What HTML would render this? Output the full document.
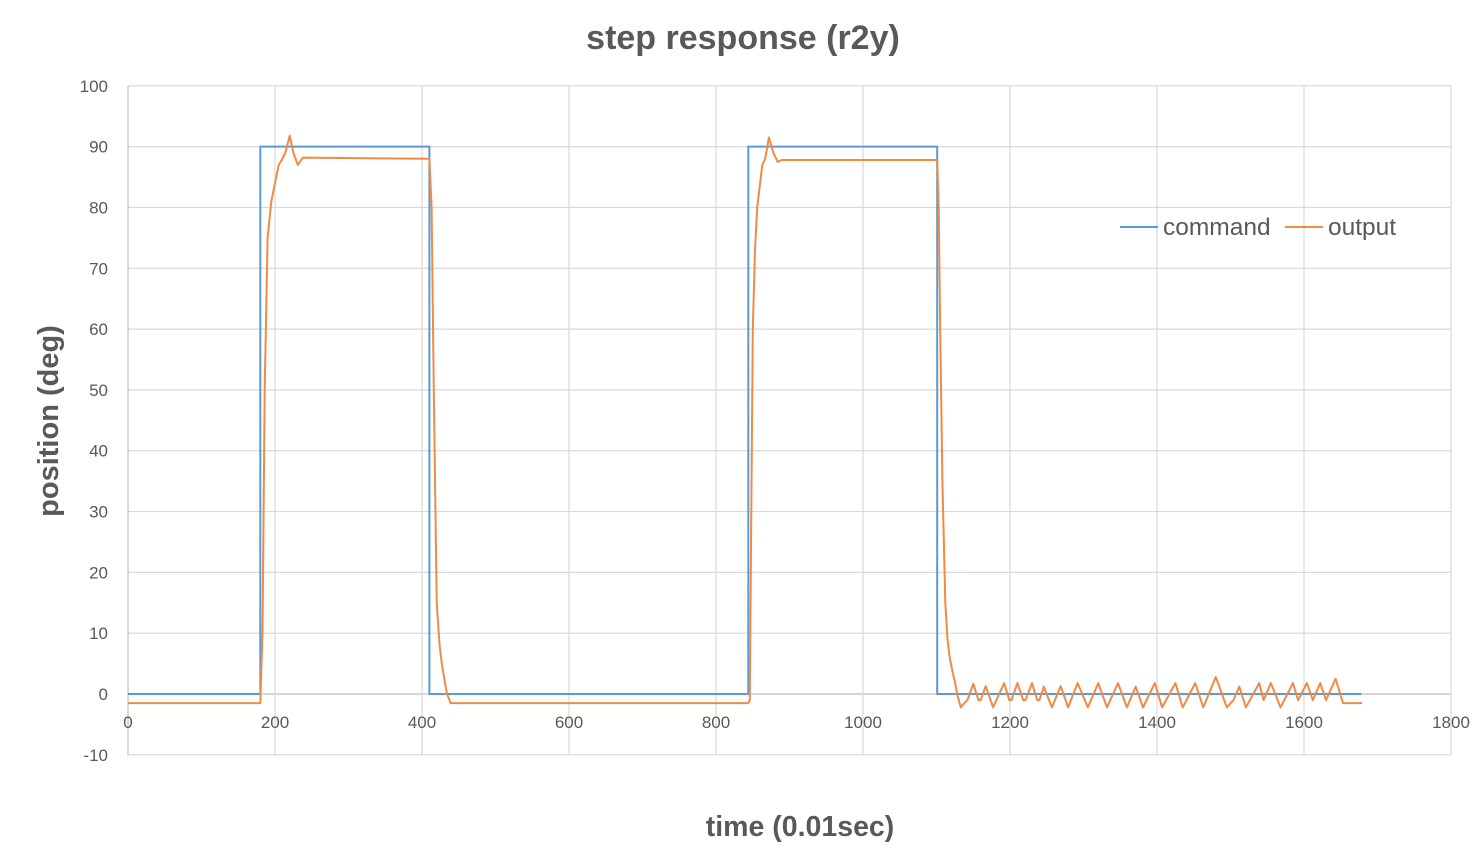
<!DOCTYPE html>
<html><head><meta charset="utf-8"><style>
body{margin:0;background:#fff;}
svg{display:block;font-family:"Liberation Sans",sans-serif;}
</style></head><body>
<svg id="chart" width="1483" height="862">
<text x="743" y="49" text-anchor="middle" font-size="34" font-weight="bold" fill="#595959">step response (r2y)</text>
<text x="800" y="836" text-anchor="middle" font-size="28.5" font-weight="bold" fill="#595959">time (0.01sec)</text>
<text transform="translate(58,421) rotate(-90)" text-anchor="middle" font-size="29" font-weight="bold" fill="#595959">position (deg)</text>
<g id="grid"></g><g id="ticks"></g><g id="series"></g>
<g>
<line x1="1120" y1="227" x2="1158" y2="227" stroke="#5b9bd5" stroke-width="2"/>
<text x="1163" y="235" font-size="24.5" fill="#595959">command</text>
<line x1="1285" y1="227" x2="1323" y2="227" stroke="#f08a45" stroke-width="2"/>
<text x="1328" y="235" font-size="24.5" fill="#595959">output</text>
</g>
</svg>
<script>
const xTicks=[0,200,400,600,800,1000,1200,1400,1600,1800];
const yTicks=[-10,0,10,20,30,40,50,60,70,80,90,100];
const cmdT=[0,180,180,410,410,844,844,1101,1101,1678];
const cmdV=[0,0,90,90,0,0,90,90,0,0];
const outT=[0,180,183,186,190,195,200,205,210,214,220,225,231,238,410,413,416,420,424,427,431,434,439,844,846,848,850,853,856,860,863,867,872,878,884,890,1101,1103,1105,1108,1112,1115,1118,1122,1125,1128,1133,1138,1142,1150,1157,1160,1167,1177,1192,1199,1202,1210,1218,1221,1230,1237,1240,1246,1257,1269,1279,1292,1306,1320,1332,1347,1359,1371,1381,1397,1407,1425,1435,1452,1463,1480,1495,1504,1512,1521,1539,1545,1555,1568,1585,1592,1604,1612,1622,1630,1643,1653,1679];
const outV=[-1.5,-1.5,10,50,75,81,84,87,88,89,91.8,89,87,88.2,88,80,50,15,8,5,2,0,-1.5,-1.5,-1,30,60,73,80,84,87,88,91.5,89,87.5,87.8,87.8,80,60,35,15,9,6,3.5,2,0,-2.2,-1.5,-1,1.7,-1,-1,1.3,-2.2,1.8,-1,-1,1.8,-1,-1,1.8,-1,-1,1.2,-2.2,1.3,-2.2,1.8,-2.2,1.8,-2.2,1.8,-2.2,1.2,-2.2,1.8,-2.2,1.8,-2.2,1.8,-2.2,2.8,-2.2,-1,1.2,-2.2,1.8,-1,1.8,-2.2,1.8,-1,1.8,-1,1.8,-1,2.5,-1.5,-1.5];
const X=t=>128+t*(1451-128)/1800;
const Y=v=>694-v*(755-86)/110;
const NS="http://www.w3.org/2000/svg";
const grid=document.getElementById('grid'),ticks=document.getElementById('ticks'),ser=document.getElementById('series');
function mk(tag,attrs,parent){const e=document.createElementNS(NS,tag);for(const k in attrs)e.setAttribute(k,attrs[k]);parent.appendChild(e);return e;}
yTicks.forEach(v=>{
 const l=mk('line',{x1:128,x2:1451,y1:Y(v),y2:Y(v),stroke:v===0?'#bfbfbf':'#d9d9d9','stroke-width':1.2},grid);
 
 
 const t=mk('text',{x:108,y:Y(v)+6,'text-anchor':'end','font-size':17,fill:'#595959'},ticks);
 t.textContent=v;
 
 
});
xTicks.forEach(v=>{
 const l=mk('line',{x1:X(v),x2:X(v),y1:86,y2:755,stroke:v===0?'#bfbfbf':'#d9d9d9','stroke-width':1.2},grid);
 
 
 const t=mk('text',{x:X(v),y:728,'text-anchor':'middle','font-size':17,fill:'#595959'},ticks);
 t.textContent=v;
 
 
});
function pts(T,V){return T.map((t,i)=>X(t).toFixed(1)+','+Y(V[i]).toFixed(1)).join(' ');}
const c=mk('polyline',{points:pts(cmdT,cmdV),fill:'none',stroke:'#5b9bd5','stroke-width':2},ser);


const o=mk('polyline',{points:pts(outT,outV),fill:'none',stroke:'#f08a45','stroke-width':2,'stroke-linejoin':'round'},ser);


</script>
</body></html>
